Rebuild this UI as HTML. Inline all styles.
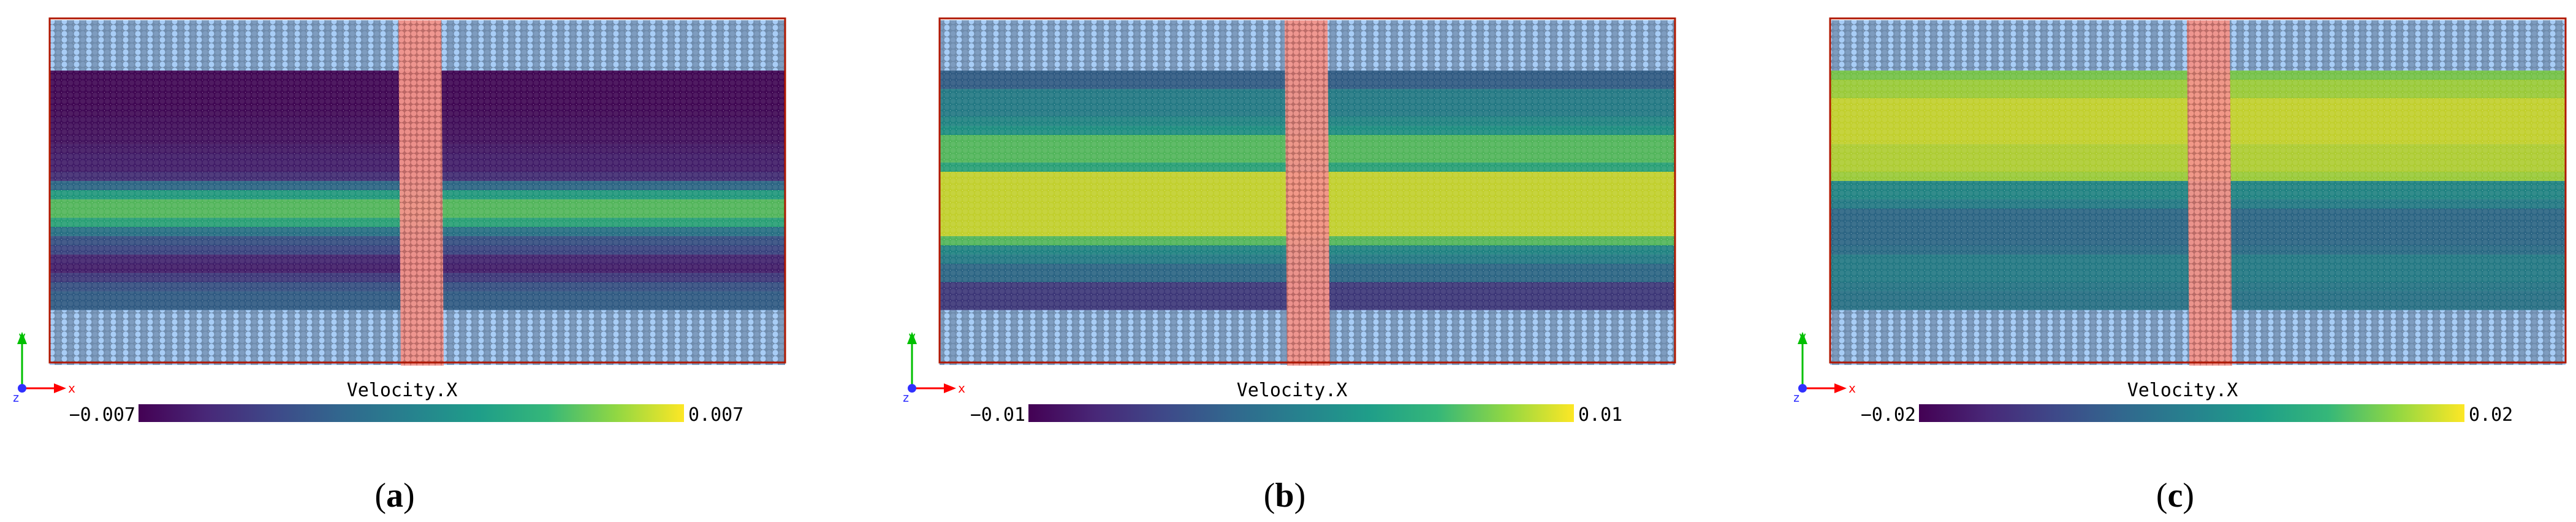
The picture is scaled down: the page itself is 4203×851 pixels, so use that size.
<!DOCTYPE html>
<html><head><meta charset="utf-8">
<style>
html,body{margin:0;padding:0;background:#fff;}
svg{display:block;}
text{font-family:"DejaVu Sans Mono","Liberation Mono",monospace;}
</style></head>
<body>
<svg id="fig" width="4203" height="851" viewBox="0 0 4203 851" xmlns="http://www.w3.org/2000/svg">
<defs>
  <linearGradient id="viridis" x1="0" x2="1" y1="0" y2="0">
    <stop offset="0" stop-color="#440154"/><stop offset="0.125" stop-color="#482878"/>
    <stop offset="0.25" stop-color="#3e4989"/><stop offset="0.375" stop-color="#31688e"/>
    <stop offset="0.5" stop-color="#26828e"/><stop offset="0.625" stop-color="#1f9e89"/>
    <stop offset="0.75" stop-color="#35b779"/><stop offset="0.875" stop-color="#90d743"/>
    <stop offset="1" stop-color="#fde725"/>
  </linearGradient>
  <pattern id="atoms" width="10" height="10" patternUnits="userSpaceOnUse">
    <rect width="10" height="10" fill="rgba(0,0,0,0.08)"/>
    <circle cx="5" cy="5" r="4.3" fill="rgba(255,255,255,0.08)"/>
    <circle cx="0" cy="0" r="0.9" fill="rgba(255,255,255,0.8)"/>
  </pattern>
  <pattern id="wall" width="20" height="10" patternUnits="userSpaceOnUse">
    <rect width="20" height="10" fill="#6f8cad"/>
    <circle cx="5" cy="5" r="4.6" fill="#a8cdf6"/>
    <circle cx="15" cy="5" r="4.3" fill="#7e9cbf"/>
    <circle cx="0" cy="0" r="0.8" fill="#fff"/>
  </pattern>
  <pattern id="stripe" width="10" height="10" patternUnits="userSpaceOnUse">
    <rect width="10" height="10" fill="#c06a64"/>
    <circle cx="5" cy="5" r="4.5" fill="#f4958c"/>
  </pattern>
</defs>
</svg>
<script>
// Row profiles of Velocity.X (26 rows of the fluid region, top to bottom)
const panelLabels = ["a", "b", "c"];
const rangeMax = [0.007, 0.01, 0.02];
const tickMin = ["\u22120.007", "\u22120.01", "\u22120.02"];
const tickMax = ["0.007", "0.01", "0.02"];
const rowsA = [-0.0067,-0.0067,-0.0067,-0.0067,-0.0066,-0.0064,-0.0063,-0.0062,-0.0059,-0.0056,-0.0056,-0.0049,-0.0014,0.0021,0.0042,0.0042,0.0028,-0.0007,-0.0028,-0.0035,-0.0053,-0.0056,-0.0042,-0.0028,-0.0021,-0.0021];
const rowsB = [-0.003,-0.003,0.0,0.0,0.0,0.001,0.002,0.006,0.006,0.006,0.004,0.009,0.009,0.009,0.009,0.009,0.009,0.009,0.006,0.001,0.0,-0.002,-0.002,-0.006,-0.006,-0.006];
const rowsC = [0.014,0.016,0.016,0.018,0.018,0.018,0.018,0.018,0.017,0.017,0.017,0.016,0.002,0.002,0.0,-0.004,-0.004,-0.004,-0.004,-0.003,0.0,0.0,0.0,-0.001,-0.002,-0.002];
const allRows = [rowsA, rowsB, rowsC];

const frameX = [81, 1533, 2986];
const frameW = 1200;
const boxTop = 30, boxBottom = 591, fluidTop = 115, fluidBot = 505;
const stripeRel = [569, 563, 582];
const svgEl = document.getElementById('fig');
const NS = "http://www.w3.org/2000/svg";

const vir = ["#440154","#482878","#3e4989","#31688e","#26828e","#1f9e89","#35b779","#90d743","#fde725"];
function hex(c){return [parseInt(c.slice(1,3),16),parseInt(c.slice(3,5),16),parseInt(c.slice(5,7),16)];}
function colorScale(v, m){
  let t = (v + m) / (2*m); t = Math.max(0, Math.min(1, t));
  const p = t*(vir.length-1), i = Math.min(vir.length-2, Math.floor(p)), f = p - i;
  const a = hex(vir[i]), b = hex(vir[i+1]);
  return "rgb(" + a.map((x,k)=>Math.round(x+(b[k]-x)*f)).join(",") + ")";
}
function yScale(i, n){ return fluidTop + (fluidBot - fluidTop) * i / n; }
function mk(tag, attrs, parent){
  const e = document.createElementNS(NS, tag);
  for (const k in attrs) e.setAttribute(k, attrs[k]);
  (parent||svgEl).appendChild(e); return e;
}

panelLabels.forEach((lab, p) => {
  const x0 = frameX[p];
  const g = mk('g', {});
  
  
  const w1 = mk('rect', {x:x0, y:boxTop+3, width:frameW, height:fluidTop-boxTop-3, fill:'url(#wall)'}, g);
  
  
  const w2 = mk('rect', {x:x0, y:fluidBot, width:frameW, height:boxBottom-fluidBot+4, fill:'url(#wall)'}, g);
  
  
  const rows = allRows[p], n = rows.length;
  rows.forEach((v, i) => {
    const y = yScale(i, n), h = yScale(i+1, n) - y;
    const r = mk('rect', {x:x0, y:y, width:frameW, height:h+0.5, fill:colorScale(v, rangeMax[p])}, g);
    
    
  });
  const tex = mk('rect', {x:x0, y:fluidTop, width:frameW, height:fluidBot-fluidTop, fill:'url(#atoms)'}, g);
  
  
  const sx = x0 + stripeRel[p];
  const st = mk('polygon', {points:`${sx},${boxTop+3} ${sx+70},${boxTop+3} ${sx+74},${boxBottom+5} ${sx+4},${boxBottom+5}`, fill:'url(#stripe)', opacity:0.95}, g);
  
  
  const fr = mk('rect', {x:x0, y:boxTop, width:frameW, height:boxBottom-boxTop, fill:'none', stroke:'#b01800', 'stroke-width':3}, g);
  
  
  const ox = x0 - 45, oy = 633;
  const ay = mk('line', {x1:ox, y1:oy, x2:ox, y2:oy-75, stroke:'#00c000', 'stroke-width':3}, g);
  
  
  mk('polygon', {points:`${ox-8},${oy-72} ${ox+8},${oy-72} ${ox},${oy-92}`, fill:'#00c000'}, g);
  const ax = mk('line', {x1:ox, y1:oy, x2:ox+55, y2:oy, stroke:'#ff0000', 'stroke-width':3}, g);
  
  
  mk('polygon', {points:`${ox+52},${oy-8} ${ox+52},${oy+8} ${ox+72},${oy}`, fill:'#ff0000'}, g);
  mk('circle', {cx:ox, cy:oy, r:7, fill:'#3030ff'}, g);
  const tY = mk('text', {x:ox-6, y:oy-78, 'font-size':20, fill:'#00c000'}, g); tY.textContent = 'y';
  
  
  const tX = mk('text', {x:ox+75, y:oy+7, 'font-size':20, fill:'#ff0000'}, g); tX.textContent = 'x';
  
  
  const tZ = mk('text', {x:ox-16, y:oy+22, 'font-size':20, fill:'#3030ff'}, g); tZ.textContent = 'z';
  
  
  const cbx = x0 + 145;
  const cbt = mk('text', {x:x0 + 575, y:646, 'font-size':30, 'text-anchor':'middle', fill:'#000'}, g);
  cbt.textContent = 'Velocity.X';
  
  
  const cb = mk('rect', {x:cbx, y:659, width:890, height:29, fill:'url(#viridis)'}, g);
  
  
  const l1 = mk('text', {x:cbx-5, y:686, 'font-size':30, 'text-anchor':'end', fill:'#000'}, g);
  l1.textContent = tickMin[p];
  
  
  const l2 = mk('text', {x:cbx+897, y:686, 'font-size':30, fill:'#000'}, g);
  l2.textContent = tickMax[p];
  
  
  const cap = mk('text', {x:x0 + 563, y:826, 'font-size':56, 'text-anchor':'middle', fill:'#000', style:'font-family:"Liberation Serif",serif'}, g);
  cap.innerHTML = '(<tspan font-weight="bold">' + lab + '</tspan>)';
  
  
});
</script>
</body></html>
